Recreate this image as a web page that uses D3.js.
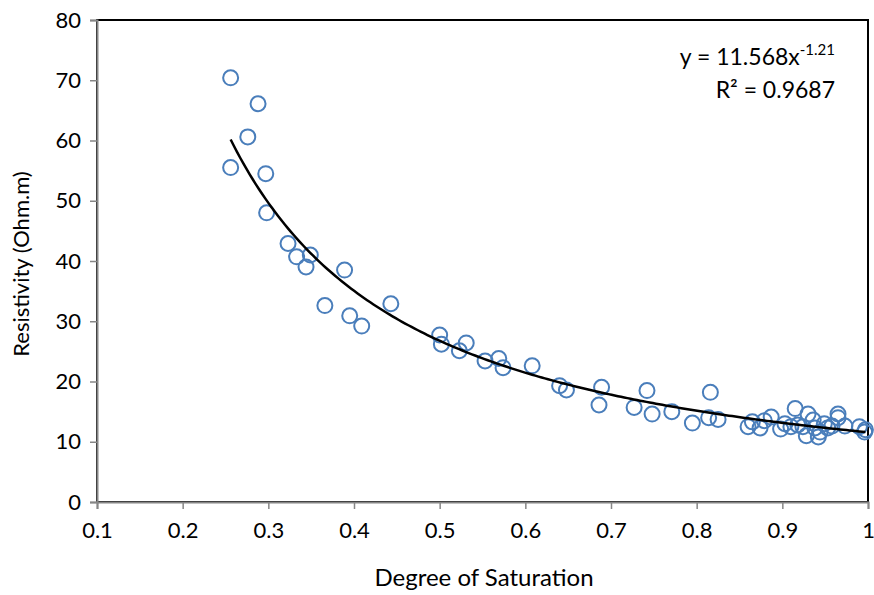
<!DOCTYPE html>
<html><head><meta charset="utf-8">
<script src="https://cdn.jsdelivr.net/npm/d3@7/dist/d3.min.js"></script>
<style>body{margin:0;background:#fff}svg{display:block}text{font-family:Lato,"Open Sans",sans-serif}</style>
</head><body><svg id="c" width="874" height="595"></svg>
<script>
const saturation = [0.256,0.288,0.276,0.256,0.297,0.298,0.323,0.333,0.349,0.344,0.389,0.366,0.395,0.409,0.443,
0.500,0.502,0.531,0.523,0.553,0.569,0.574,0.608,0.640,0.648,0.689,0.686,0.742,0.727,0.748,0.771,0.795,0.816,0.814,0.825,
0.860,0.865,0.874,0.879,0.887,0.898,0.903,0.910,0.915,0.918,0.924,0.928,0.930,0.936,0.938,0.942,0.944,0.949,0.953,0.958,0.965,0.965,0.973,0.990,0.996,0.997];
const resistivity = [70.4,66.1,60.6,55.5,54.5,48.0,42.9,40.7,41.0,39.0,38.5,32.6,30.9,29.2,32.9,
27.7,26.2,26.4,25.1,23.4,23.8,22.3,22.6,19.3,18.6,19.05,16.1,18.5,15.7,14.6,15.0,13.1,18.2,14.0,13.7,
12.5,13.3,12.3,13.5,14.1,12.1,13.0,12.5,15.5,12.8,12.5,11.0,14.6,13.6,12.3,10.8,11.6,13.0,12.3,12.6,14.6,14.0,12.6,12.5,11.6,12.0];
const xTicks = [0.1,0.2,0.3,0.4,0.5,0.6,0.7,0.8,0.9,1];
const yTicks = [0,10,20,30,40,50,60,70,80];
const fitA = 11.568, fitB = -1.21, fitR2 = "0.9687";

const svg = d3.select("#c");
const L=97,R=868,T=20,B=502;
const x = d3.scaleLinear().domain([0.1,1]).range([L,R]);
const y = d3.scaleLinear().domain([0,80]).range([B,T]);

// plot border (top/right)
svg.append("rect").attr("x",L).attr("y",T).attr("width",R-L).attr("height",B-T)
  .attr("fill","none").attr("stroke","#000").attr("stroke-width",2);

const fmtX = d => d===1 ? "1" : d3.format(".1f")(d);
const gx = svg.append("g").attr("transform",`translate(0,${B})`)
  .call(d3.axisBottom(x).tickValues(xTicks).tickFormat(fmtX).tickSize(7).tickPadding(13));
const gy = svg.append("g").attr("transform",`translate(${L},0)`)
  .call(d3.axisLeft(y).tickValues(yTicks).tickSize(7).tickPadding(9));
[gx,gy].forEach(g=>{
  g.select(".domain").attr("stroke","#868686").attr("stroke-width",2);
  g.selectAll(".tick line").attr("stroke","#868686").attr("stroke-width",1.5);
  g.selectAll(".tick text").attr("fill","#000").style("font-size","22px").style("font-family","Lato");
});

// points
svg.append("g").selectAll("circle").data(saturation.map((s,i)=>[s,resistivity[i]]))
  .join("circle").attr("cx",d=>x(d[0])).attr("cy",d=>y(d[1])).attr("r",7.5)
  .attr("fill","none").attr("stroke","#4a7ebb").attr("stroke-width",2);

// power trendline
const xmin = d3.min(saturation), xmax = d3.max(saturation);
const curve = d3.range(0,201).map(i=>{const s=xmin+(xmax-xmin)*i/200; return [s, fitA*Math.pow(s,fitB)];});
svg.append("path").datum(curve).attr("fill","none").attr("stroke","#000").attr("stroke-width",2.5)
  .attr("d",d3.line().x(d=>x(d[0])).y(d=>y(d[1])));

// equation
const eq = svg.append("text").attr("x",835).attr("y",65).attr("text-anchor","end").style("font-size","23px").attr("fill","#000");
eq.append("tspan").text(`y = ${fitA}x`);
eq.append("tspan").attr("dy",-10).style("font-size","15px").text(fitB.toString());
svg.append("text").attr("x",835).attr("y",98).attr("text-anchor","end").style("font-size","23px").attr("fill","#000")
  .text(`R² = ${fitR2}`);

// axis titles
svg.append("text").attr("x",484).attr("y",586).attr("text-anchor","middle").style("font-size","24px").text("Degree of Saturation");
svg.append("text").attr("transform","translate(29,264) rotate(-90)").attr("text-anchor","middle").style("font-size","22px").text("Resistivity (Ohm.m)");
</script></body></html>
